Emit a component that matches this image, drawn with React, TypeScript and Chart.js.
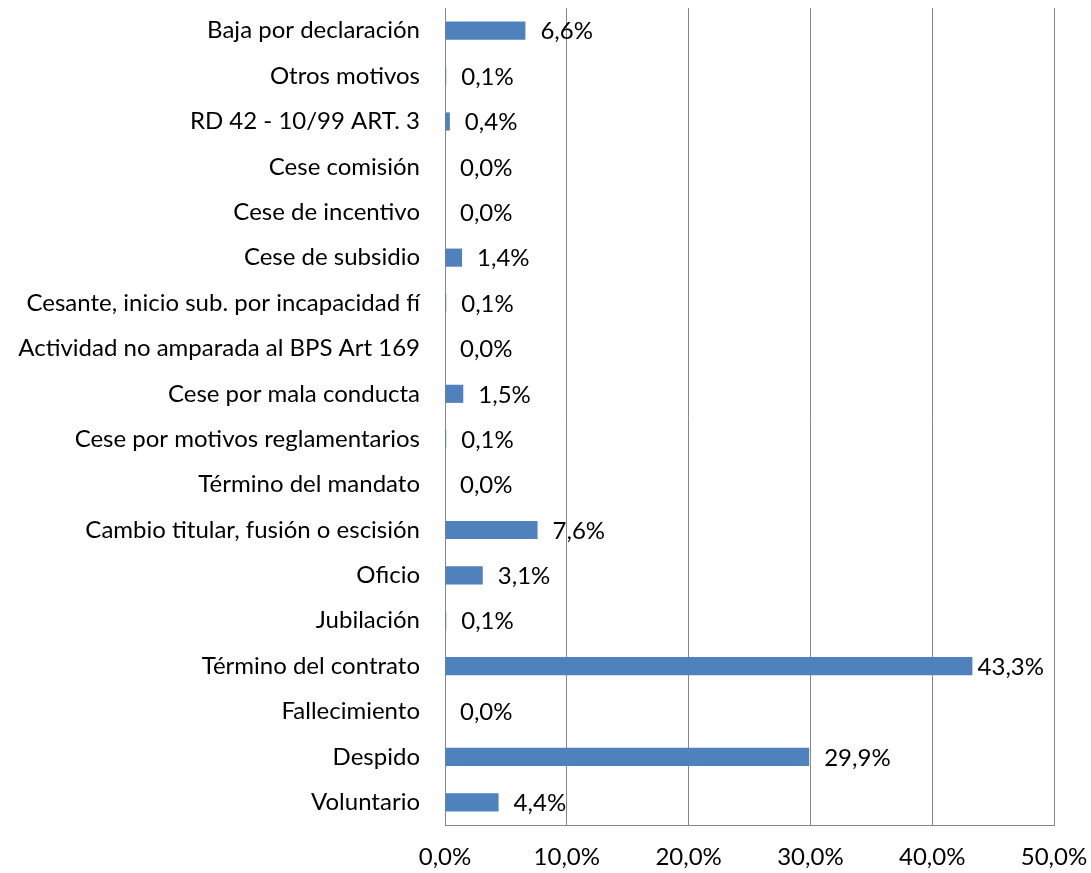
import React, { useEffect, useRef } from "react";
import { Chart, registerables } from "chart.js";

Chart.register(...registerables);

const categories: string[] = [
  "Baja por declaración",
  "Otros motivos",
  "RD 42 - 10/99 ART. 3",
  "Cese comisión",
  "Cese de incentivo",
  "Cese de subsidio",
  "Cesante, inicio sub. por incapacidad fí",
  "Actividad no amparada al BPS Art 169",
  "Cese por mala conducta",
  "Cese por motivos reglamentarios",
  "Término del mandato",
  "Cambio titular, fusión o escisión",
  "Oficio",
  "Jubilación",
  "Término del contrato",
  "Fallecimiento",
  "Despido",
  "Voluntario",
];

const values: number[] = [6.6, 0.1, 0.4, 0.0, 0.0, 1.4, 0.1, 0.0, 1.5, 0.1, 0.0, 7.6, 3.1, 0.1, 43.3, 0.0, 29.9, 4.4];

const xTicks: number[] = [0, 10, 20, 30, 40, 50];

const FONT = "Lato, 'Open Sans', sans-serif";
const FS = 24;
const fmt = (v: number) => v.toFixed(1).replace(".", ",") + "%";

const labelPlugin = {
  id: "valueLabels",
  afterDatasetsDraw(chart: any) {
    const ctx = chart.ctx;
    const meta = chart.getDatasetMeta(0);
    const area = chart.chartArea;
    ctx.save();
    ctx.font = `${FS}px ${FONT}`;
    ctx.fillStyle = "#000";
    ctx.textBaseline = "middle";
    ctx.textAlign = "left";
    meta.data.forEach((el: any, i: number) => {
      const txt = fmt(values[i]);
      const w = ctx.measureText(txt).width;
      let x = el.x + 15;
      if (x + w > area.right - 10) x = Math.max(el.x + 5, area.right - 10 - w);
      ctx.fillText(txt, x, el.y + 1);
    });
    ctx.restore();
  },
};

export default function App() {
  const ref = useRef<HTMLCanvasElement | null>(null);
  useEffect(() => {
    document.body.style.margin = "0";
    if (!ref.current) return;
    const chart = new Chart(ref.current, {
      type: "bar",
      data: {
        labels: categories,
        datasets: [
          {
            data: values,
            backgroundColor: "#4F81BD",
            borderWidth: 0,
            barPercentage: 0.8,
            categoryPercentage: 0.5,
          },
        ],
      },
      options: {
        indexAxis: "y",
        animation: false,
        responsive: false,
        maintainAspectRatio: false,
        layout: { padding: { top: 8, right: 37, left: 0, bottom: 0 } },
        plugins: { legend: { display: false }, tooltip: { enabled: false } },
        scales: {
          x: {
            min: 0,
            max: 50,
            afterBuildTicks: (scale: any) => {
              scale.ticks = xTicks.map((v) => ({ value: v }));
            },
            afterFit: (scale: any) => {
              scale.height = 48;
              scale.paddingLeft = 0;
              scale.paddingRight = 0;
            },
            grid: { color: "#868686", lineWidth: 1, drawTicks: false },
            border: { color: "#868686", width: 1 },
            ticks: {
              color: "#000",
              font: { family: FONT, size: FS },
              padding: 18,
              maxRotation: 0,
              callback: (v: any) => fmt(Number(v)),
            },
          },
          y: {
            afterFit: (scale: any) => {
              scale.width = 445;
              scale.paddingTop = 0;
              scale.paddingBottom = 0;
            },
            grid: { display: false, drawTicks: false },
            border: { color: "#868686", width: 1 },
            ticks: {
              color: "#000",
              font: { family: FONT, size: FS },
              padding: 25,
              autoSkip: false,
            },
          },
        },
      },
      plugins: [labelPlugin],
    });
    return () => chart.destroy();
  }, []);
  return (
    <div style={{ width: 1091, height: 873 }}>
      <canvas ref={ref} width={1091} height={873} style={{ display: "block" }} />
    </div>
  );
}
